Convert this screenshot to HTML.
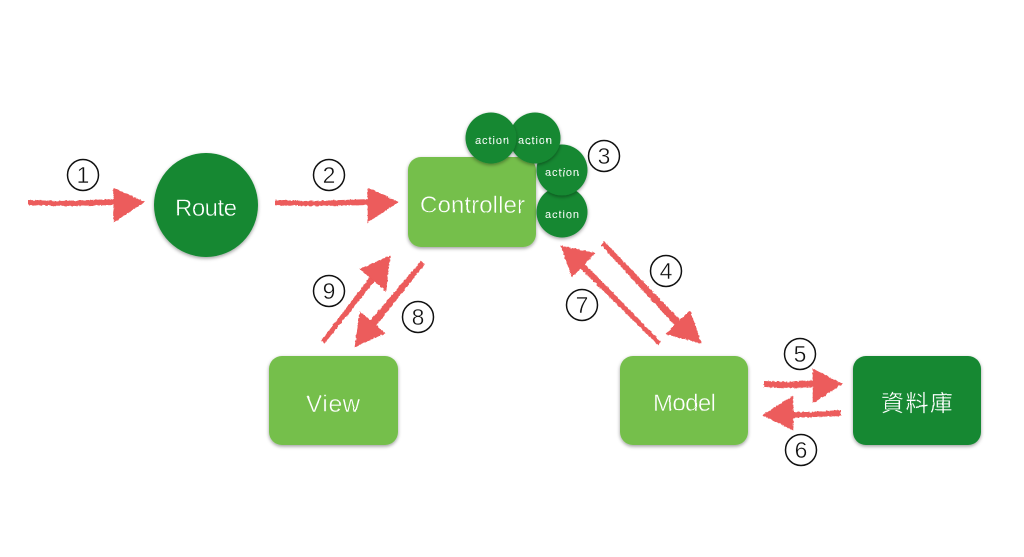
<!DOCTYPE html>
<html lang="zh-Hant">
<head>
<meta charset="utf-8">
<title>MVC flow</title>
<style>
html,body{margin:0;padding:0;background:#fff;width:1024px;height:557px;overflow:hidden}
svg{display:block}
.lbl{fill:#fff;font-family:"Liberation Sans","WenQuanYi Zen Hei","Noto Sans CJK TC",sans-serif;font-weight:400;text-anchor:start;stroke-width:.45}
.lg{stroke:#74bf4b}
.dg{stroke:#138831}
.act{font-size:11px;stroke:none}
.big{font-size:24px}
.num{fill:none;stroke:#111;stroke-width:1.5}
.n{fill:#111;font-family:"Liberation Sans",sans-serif;font-size:23px;text-anchor:middle;stroke:#fff;stroke-width:.4}
.shaft{fill:#ec5b5b}
.head{fill:#ec5b5b;stroke:#ec5b5b;stroke-width:.6}
</style>
</head>
<body>
<svg width="1024" height="557" viewBox="0 0 1024 557" xmlns="http://www.w3.org/2000/svg">
<defs>
<filter id="sh" x="-20%" y="-20%" width="140%" height="140%">
<feDropShadow dx="0" dy="1.5" stdDeviation="1.8" flood-color="#000" flood-opacity=".38"/>
</filter>
<filter id="rough" x="-10%" y="-10%" width="120%" height="120%">
<feTurbulence type="fractalNoise" baseFrequency=".4" numOctaves="2" seed="4"/>
<feDisplacementMap in="SourceGraphic" scale="2.6" xChannelSelector="R" yChannelSelector="G"/>
</filter>
<filter id="wob" x="-5%" y="-10%" width="110%" height="120%">
<feTurbulence type="fractalNoise" baseFrequency=".12" numOctaves="1" seed="7"/>
<feDisplacementMap in="SourceGraphic" scale="1.4" xChannelSelector="R" yChannelSelector="G"/>
</filter>
</defs>

<!-- nodes -->
<circle cx="206" cy="205" r="52" fill="#138831" filter="url(#sh)"/>
<rect x="408" y="157" width="128" height="90" rx="13" fill="#74bf4b" filter="url(#sh)"/>
<rect x="269" y="356" width="129" height="89" rx="13" fill="#74bf4b" filter="url(#sh)"/>
<rect x="620" y="356" width="128" height="89" rx="13" fill="#74bf4b" filter="url(#sh)"/>
<rect x="853" y="356" width="128" height="89" rx="13" fill="#138831" filter="url(#sh)"/>

<!-- actions -->
<circle cx="562" cy="212" r="25.5" fill="#138831" filter="url(#sh)"/>
<circle cx="562" cy="170" r="25.5" fill="#138831" filter="url(#sh)"/>
<circle cx="535" cy="138" r="25.5" fill="#138831" filter="url(#sh)"/>
<circle cx="491" cy="138" r="25.5" fill="#138831" filter="url(#sh)"/>

<!-- labels -->
<g filter="url(#wob)">
<text class="lbl big dg" x="175" y="216" textLength="62" lengthAdjust="spacing">Route</text>
<text class="lbl big lg" x="420" y="213" textLength="105" lengthAdjust="spacing">Controller</text>
<text class="lbl big lg" x="306" y="412" textLength="54" lengthAdjust="spacing">View</text>
<text class="lbl big lg" x="653" y="411" textLength="63" lengthAdjust="spacing">Model</text>
<text class="lbl dg" x="881" y="411" font-size="23" textLength="72" lengthAdjust="spacing" style="stroke-width:.3">資料庫</text>
<text class="lbl act" x="475" y="144" textLength="34" lengthAdjust="spacing">action</text>
<text class="lbl act" x="518" y="144" textLength="34" lengthAdjust="spacing">action</text>
<text class="lbl act" x="545" y="176" textLength="34" lengthAdjust="spacing">action</text>
<text class="lbl act" x="545" y="218" textLength="34" lengthAdjust="spacing">action</text>
</g>

<!-- arrows -->
<g filter="url(#rough)">
<polygon class="shaft" points="28,200 60,201 118,199 118,205 70,206 28,205"/>
<polygon class="head" points="114,188 144,202 114,222"/>
<polygon class="shaft" points="275,200 310,201 372,199 372,205 320,206 275,205"/>
<polygon class="head" points="368,188 398,202 368,222"/>
<polygon class="shaft" points="321,341 372,274 377,278 325,343"/>
<polygon class="head" points="360,269 390,256 386,291"/>
<polygon class="shaft" points="421,261 425,264 374,328 368,323"/>
<polygon class="head" points="360,312 355,347 385,333"/>
<polygon class="shaft" points="604,241 682,322 677,328 601,245"/>
<polygon class="head" points="690,311 701,343 666,334"/>
<polygon class="shaft" points="661,342 658,345 579,267 583,262"/>
<polygon class="head" points="561,246 595,253 572,277"/>
<polygon class="shaft" points="764,381 790,382 816,380 816,387 790,388 764,387"/>
<polygon class="head" points="813,369 842,384 813,403"/>
<polygon class="shaft" points="841,410 810,412 788,412 788,418 815,417 841,416"/>
<polygon class="head" points="793,396 763,415 793,430"/>
</g>

<!-- step numbers -->
<circle class="num" cx="83" cy="175" r="15.5"/><text class="n" x="83" y="183">1</text>
<circle class="num" cx="329" cy="175" r="15.5"/><text class="n" x="329" y="183">2</text>
<circle class="num" cx="604" cy="156" r="15.5"/><text class="n" x="604" y="164">3</text>
<circle class="num" cx="666" cy="271" r="15.5"/><text class="n" x="666" y="279">4</text>
<circle class="num" cx="800" cy="354" r="15.5"/><text class="n" x="800" y="362">5</text>
<circle class="num" cx="801" cy="450" r="15.5"/><text class="n" x="801" y="458">6</text>
<circle class="num" cx="582" cy="305" r="15.5"/><text class="n" x="582" y="313">7</text>
<circle class="num" cx="418" cy="317" r="15.5"/><text class="n" x="418" y="325">8</text>
<circle class="num" cx="329" cy="291" r="15.5"/><text class="n" x="329" y="299">9</text>
</svg>
</body>
</html>
